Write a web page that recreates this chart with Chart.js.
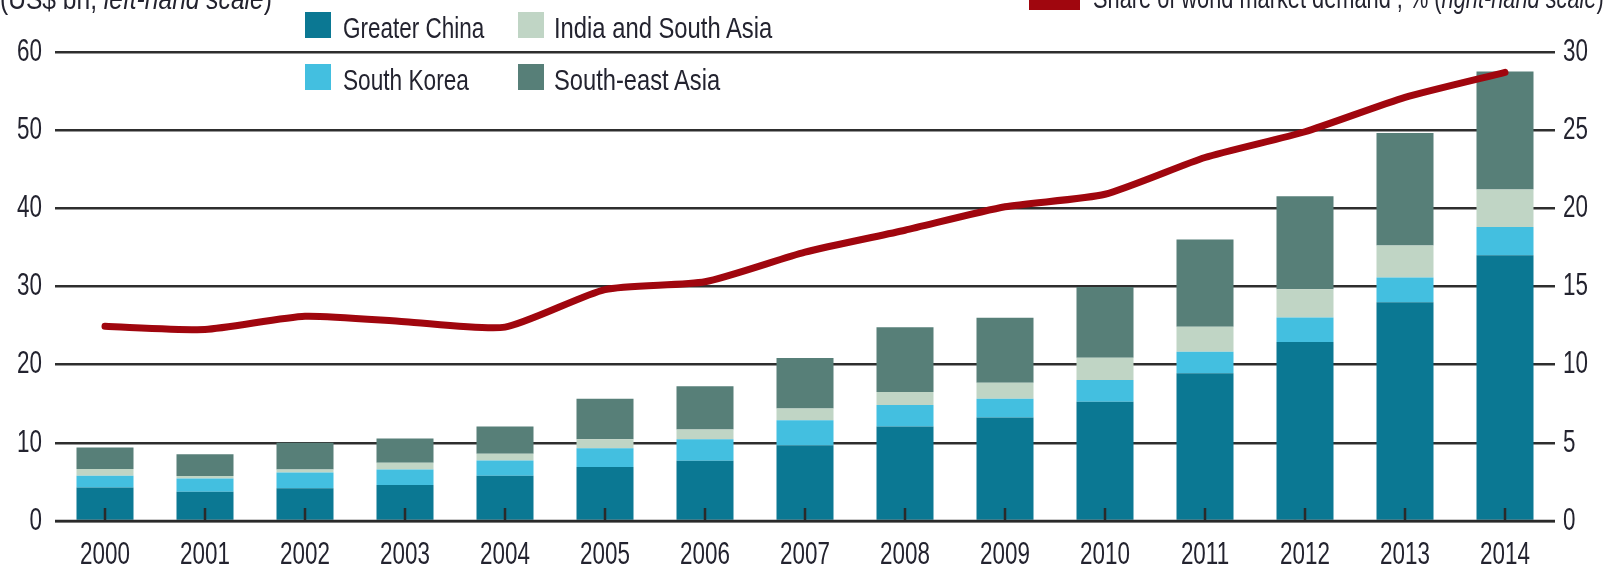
<!DOCTYPE html>
<html>
<head>
<meta charset="utf-8">
<script src="https://cdn.jsdelivr.net/npm/chart.js@4"></script>
<style>
  body { margin: 0; background: #fff; overflow: hidden; }
  #wrap { position: relative; width: 1609px; height: 571px; overflow: hidden; }
  canvas { position: absolute; left: 0; top: 0; }
  .t { position: absolute; font-family: "Liberation Sans", Arial, sans-serif; font-size: 30px; line-height: 30px;
       color: #23232f; white-space: nowrap; transform-origin: 0 0; }
  .box { position: absolute; width: 26px; height: 26px; }
</style>
</head>
<body>
<div id="wrap">
  <canvas id="grafico" width="1609" height="571"></canvas>
  <div class="t" data-w="272" style="left:0;top:-16px">(US$ bn, <i>left-hand scale</i>)</div>
  <div class="box" style="left:305px;top:12px;background:#0b7893"></div>
  <div class="t" data-w="141" style="left:343px;top:13px">Greater China</div>
  <div class="box" style="left:518px;top:12px;background:#c0d5c5"></div>
  <div class="t" data-w="218" style="left:554px;top:13px">India and South Asia</div>
  <div class="box" style="left:305px;top:64px;background:#43bfe0"></div>
  <div class="t" data-w="126" style="left:343px;top:65px">South Korea</div>
  <div class="box" style="left:518px;top:64px;background:#577f78"></div>
  <div class="t" data-w="166" style="left:554px;top:65px">South-east Asia</div>
  <div style="position:absolute;left:1029px;top:-2px;width:51px;height:12px;background:#a0060e"></div>
  <div class="t" data-w="511" style="left:1093px;top:-17px">Share of world market demand , % (<i>right-hand scale</i>)</div>
</div>
<script>
// valores
const years = ["2000", "2001", "2002", "2003", "2004", "2005", "2006", "2007",
  "2008", "2009", "2010", "2011", "2012", "2013", "2014"];
const greaterChina = [4.3, 3.75, 4.2, 4.6, 5.8, 6.9, 7.7, 9.7, 12.1, 13.25, 15.25, 18.9, 22.9, 28.0, 34.0];
const southKorea = [1.5, 1.7, 2.0, 2.0, 1.95, 2.4, 2.75, 3.2, 2.75, 2.4, 2.8, 2.75, 3.15, 3.15, 3.6];
const indiaSouthAsia = [0.85, 0.3, 0.4, 0.85, 0.85, 1.15, 1.25, 1.5, 1.65, 2.05, 2.85, 3.2, 3.6, 4.1, 4.8];
const southEastAsia = [2.75, 2.8, 3.4, 3.1, 3.5, 5.2, 5.55, 6.45, 8.3, 8.3, 9.05, 11.15, 11.9, 14.4, 15.1];
const marketShare = [12.45, 12.25, 13.1, 12.75, 12.4, 14.8, 15.3, 17.2, 18.6, 20.1, 20.9, 23.25, 24.9, 27.1, 28.7];
const leftTicks = [0, 10, 20, 30, 40, 50, 60];
const rightTicks = [0, 5, 10, 15, 20, 25, 30];

// ajustar el ancho de los textos html
document.querySelectorAll(".t").forEach((el) => {
  const w = parseFloat(el.dataset.w);
  el.style.transform = "scaleX(" + (w / el.offsetWidth) + ")";
});

const tickFont = { family: "'Liberation Sans', Arial, sans-serif", size: 32 };
const textColor = "#23232f";
const narrow = 0.7;

// etiquetas de los ejes más estrechas (la fuente original es condensada)
const narrowLabels = {
  id: "narrowLabels",
  beforeDraw(chart) {
    Object.values(chart.scales).forEach((scale) => {
      if (scale._narrow) return;
      scale._narrow = true;
      scale.drawLabels = function (area) {
        const ctx = this.ctx;
        this.getLabelItems(area).forEach((item) => {
          const o = item.options;
          ctx.save();
          ctx.translate(o.translation[0], o.translation[1]);
          ctx.scale(narrow, 1);
          ctx.font = item.font.string;
          ctx.fillStyle = o.color;
          ctx.textAlign = o.textAlign;
          ctx.textBaseline = o.textBaseline;
          ctx.fillText(item.label, 0, item.textOffset);
          ctx.restore();
        });
      };
    });
  },
};

// marcas del eje x dentro de las barras
const tickMarks = {
  id: "tickMarks",
  afterDatasetsDraw(chart) {
    const { ctx, chartArea } = chart;
    const x = chart.scales.x;
    ctx.save();
    ctx.strokeStyle = "#2a2a2a";
    ctx.lineWidth = 2.5;
    ctx.beginPath();
    ctx.moveTo(chartArea.left, chartArea.bottom);
    ctx.lineTo(chartArea.right, chartArea.bottom);
    ctx.stroke();
    x.ticks.forEach((t, i) => {
      const px = x.getPixelForTick(i);
      ctx.beginPath();
      ctx.moveTo(px, chartArea.bottom);
      ctx.lineTo(px, chartArea.bottom - 13);
      ctx.stroke();
    });
    ctx.restore();
  },
};

const barOpts = { barPercentage: 0.57, categoryPercentage: 1, borderWidth: 0, yAxisID: "y" };

new Chart(document.getElementById("grafico"), {
  type: "bar",
  data: {
    labels: years,
    datasets: [
      {
        type: "line",
        label: "Share of world market demand , % (right-hand scale)",
        data: marketShare,
        yAxisID: "y1",
        borderColor: "#a0060e",
        borderWidth: 7,
        pointRadius: 0,
        tension: 0.2,
        borderCapStyle: "round",
        borderJoinStyle: "round",
      },
      { label: "Greater China", data: greaterChina, backgroundColor: "#0b7893", ...barOpts },
      { label: "South Korea", data: southKorea, backgroundColor: "#43bfe0", ...barOpts },
      { label: "India and South Asia", data: indiaSouthAsia, backgroundColor: "#c0d5c5", ...barOpts },
      { label: "South-east Asia", data: southEastAsia, backgroundColor: "#577f78", ...barOpts },
    ],
  },
  options: {
    responsive: false,
    animation: false,
    layout: { padding: { top: 52, left: 0, right: 0, bottom: 0 } },
    plugins: { legend: { display: false }, tooltip: { enabled: false } },
    scales: {
      x: {
        stacked: true,
        grid: { display: false, drawTicks: false },
        border: { display: false },
        ticks: { font: tickFont, color: textColor, padding: 15, maxRotation: 0, autoSkip: false },
        afterFit(s) { s.height = 50; },
      },
      y: {
        stacked: true,
        position: "left",
        min: leftTicks[0],
        max: leftTicks[leftTicks.length - 1],
        afterBuildTicks(s) { s.ticks = leftTicks.map((v) => ({ value: v })); },
        ticks: { font: tickFont, color: textColor, padding: 13 },
        grid: { color: "#2e2e2e", lineWidth: 2.5, drawTicks: false },
        border: { display: false },
        afterFit(s) { s.width = 55; },
      },
      y1: {
        position: "right",
        min: rightTicks[0],
        max: rightTicks[rightTicks.length - 1],
        afterBuildTicks(s) { s.ticks = rightTicks.map((v) => ({ value: v })); },
        ticks: { font: tickFont, color: textColor, padding: 8 },
        grid: { display: false, drawTicks: false },
        border: { display: false },
        afterFit(s) { s.width = 54; },
      },
    },
  },
  plugins: [narrowLabels, tickMarks],
});
</script>
</body>
</html>
